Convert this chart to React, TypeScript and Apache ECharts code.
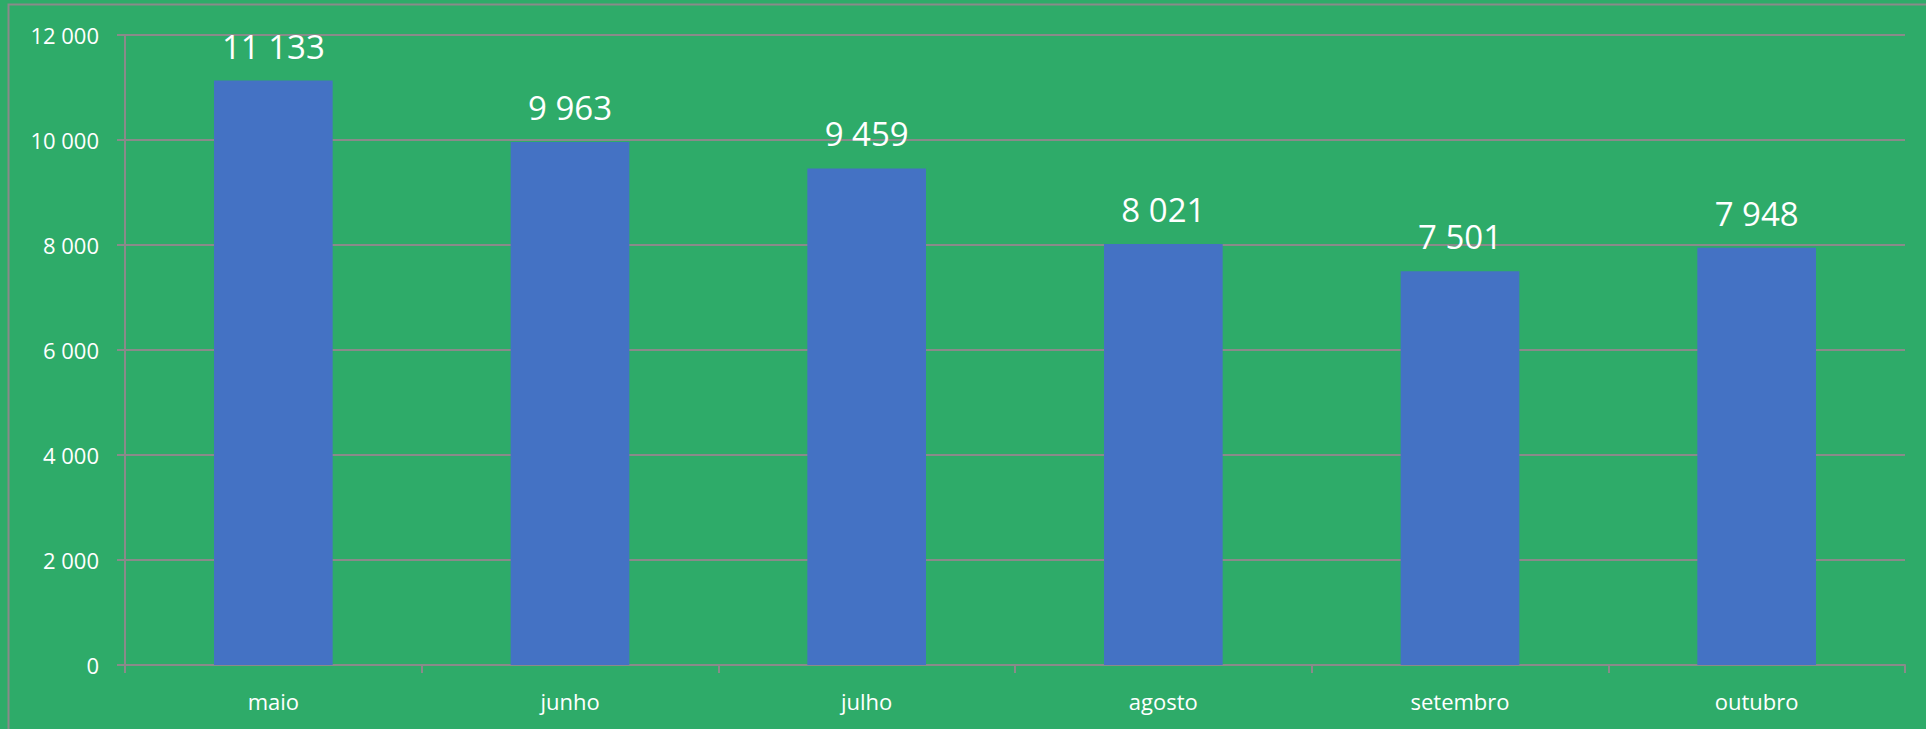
import React, { useEffect, useRef } from "react";
import * as echarts from "echarts";

const categories = ["maio", "junho", "julho", "agosto", "setembro", "outubro"];
const values = [11133, 9963, 9459, 8021, 7501, 7948];
const yTicks = { min: 0, max: 12000, interval: 2000 };

const fmt = (v: number) => String(Math.round(v)).replace(/\B(?=(\d{3})+(?!\d))/g, " ");

const GREEN = "#2EAB69";
const GRAY = "#8A8A8A";
const BLUE = "#4472C4";
const FONT = "'Open Sans', 'Noto Sans', sans-serif";

export default function App() {
  const ref = useRef<HTMLDivElement>(null);
  useEffect(() => {
    if (!ref.current) return;
    const chart = echarts.init(ref.current, undefined, { renderer: "svg" });
    chart.setOption({
      animation: false,
      backgroundColor: GREEN,
      textStyle: { fontFamily: FONT },
      grid: { left: 125, right: 21, top: 35, bottom: 64, containLabel: false },
      graphic: [
        {
          type: "rect",
          shape: { x: 8.5, y: 4.5, width: 2000, height: 900 },
          style: { fill: "none", stroke: GRAY, lineWidth: 2 },
          silent: true,
        },
      ],
      xAxis: {
        type: "category",
        data: categories,
        boundaryGap: true,
        axisLine: { show: true, lineStyle: { color: GRAY, width: 2 } },
        axisTick: { show: true, length: 8, alignWithLabel: false, lineStyle: { color: GRAY, width: 2 } },
        axisLabel: { color: "#FFFFFF", fontSize: 22, fontFamily: FONT, margin: 25 },
        splitLine: { show: false },
      },
      yAxis: {
        type: "value",
        min: yTicks.min,
        max: yTicks.max,
        interval: yTicks.interval,
        axisLine: { show: true, lineStyle: { color: GRAY, width: 2 } },
        axisTick: { show: true, length: 8, lineStyle: { color: GRAY, width: 2 } },
        axisLabel: { color: "#FFFFFF", fontSize: 22, fontFamily: FONT, margin: 26, formatter: (v: number) => fmt(v) },
        splitLine: { show: true, lineStyle: { color: GRAY, width: 2 } },
      },
      series: [
        {
          type: "bar",
          data: values,
          barWidth: "40%",
          itemStyle: { color: BLUE },
          label: {
            show: true,
            position: "top",
            distance: 18,
            color: "#FFFFFF",
            fontSize: 33,
            fontFamily: FONT,
            formatter: (p: any) => fmt(p.value),
          },
        },
      ],
    });
    return () => chart.dispose();
  }, []);
  return (
    <div
      ref={ref}
      style={{ position: "absolute", left: 0, top: 0, width: 1926, height: 729 }}
    />
  );
}
